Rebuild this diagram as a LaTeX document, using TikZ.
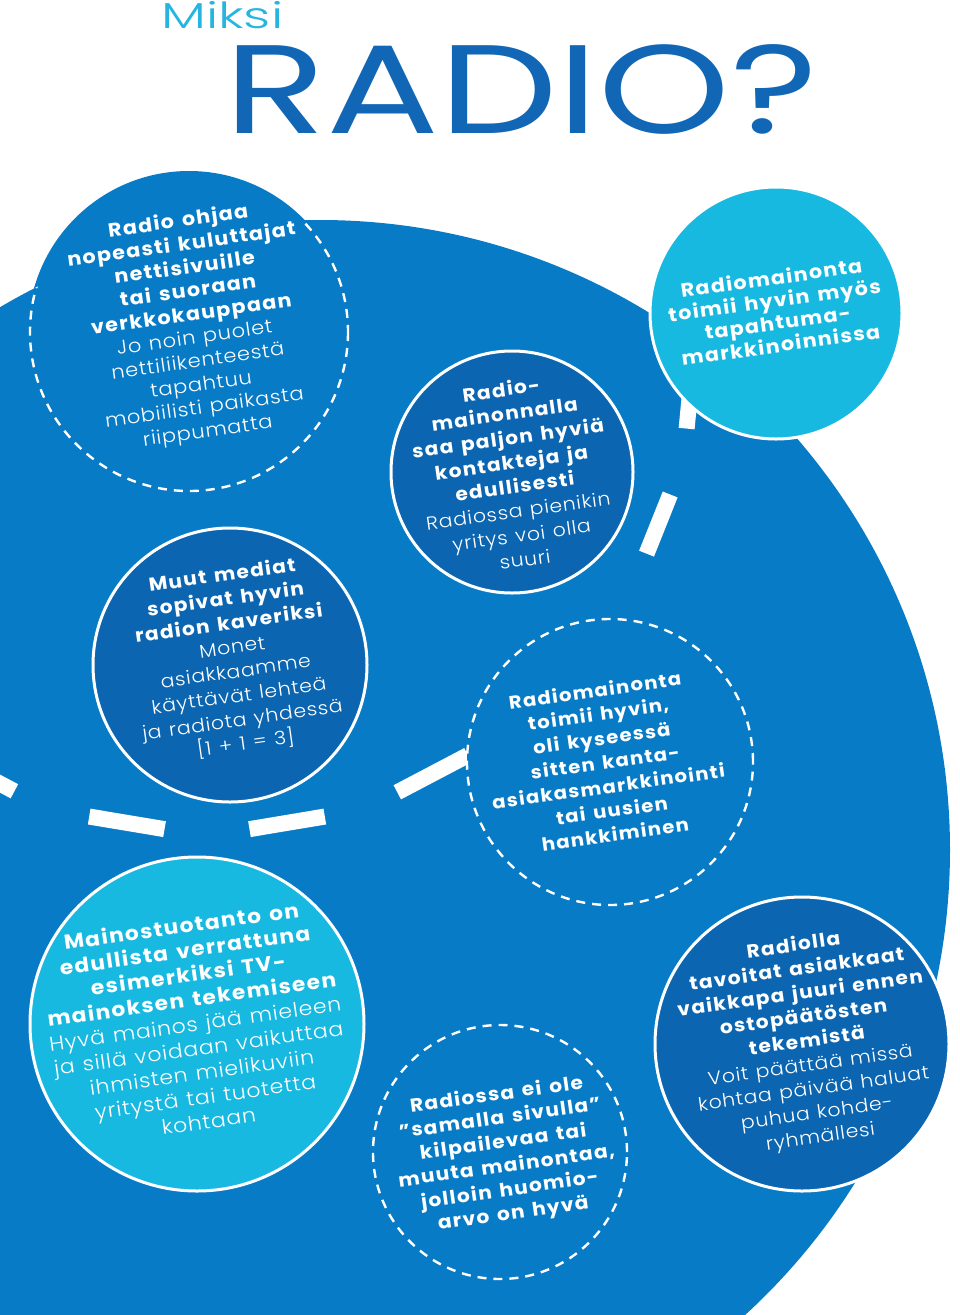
\documentclass[tikz,border=0pt]{standalone}
\usepackage{fontspec}
\setmainfont{Poppins}
\newfontfamily\boldf{Poppins Bold}[Scale=0.96, FakeStretch=1.08, LetterSpace=7, WordSpace=1.4]
\newfontfamily\lightf{Poppins Light}[Scale=0.95, FakeStretch=1.1, LetterSpace=4, WordSpace=1.2]
\newfontfamily\titlef{Poppins}
\newfontfamily\titlelight{Poppins Light}
\newcommand{\Bl}[1]{{\boldf #1}}
\newcommand{\Lt}[1]{{\lightf #1}}
\usetikzlibrary{calc}
\definecolor{mainblue}{RGB}{8,123,199}
\definecolor{darkblue}{RGB}{11,101,176}
\definecolor{cyanb}{RGB}{24,185,224}
\definecolor{titleblue}{RGB}{17,103,181}
\definecolor{titlecyan}{RGB}{36,181,224}
\begin{document}
\begin{tikzpicture}[x=1pt,y=-1pt,
  bubble/.style={circle, draw=white, line width=3pt, inner sep=0pt},
  dashbubble/.style={circle, draw=white, line width=2.4pt, dash pattern=on 9pt off 7pt, inner sep=0pt, fill=mainblue},
  txt/.style={text=white, align=center, rotate=8, inner sep=0pt},
  bigdash/.style={draw=white, line width=16pt},
]
\useasboundingbox (0,0) rectangle (960,1315);
\clip (0,0) rectangle (960,1315);
\fill[white] (0,0) rectangle (960,1315);

% title
\node[anchor=base west, inner sep=0pt, text=titlecyan, font=\titlelight\fontsize{36}{36}\selectfont] (miksi) at (161,28) {\scalebox{1.48}[1]{Miksi}};
\node[anchor=base west, inner sep=0pt, text=titleblue, font=\titlef\fontsize{126}{126}\selectfont] (radio) at (224,133) {\scalebox{1.33}[1]{RADIO?}};

% big background shape
\node[circle, fill=mainblue, minimum size=1260pt, inner sep=0pt] (bg) at (320,850) {};

% circle 1
\node[circle, fill=mainblue, minimum size=322pt, inner sep=0pt] (c1) at (189,332) {};
\begin{scope}
  \clip (320,850) circle[radius=630];
  \draw[white, line width=2.4pt, dash pattern=on 9pt off 7pt] (189,332) circle[radius=159];
\end{scope}

% big white dashes
\coordinate (dc) at (207,344);
\foreach \a/\b in {113.3/122.7, 95/104, 76/85, 57.6/67, 18/25.5, 1/10}
  \draw[bigdash] ($(dc)+(\a:487)$) -- ($(dc)+(\b:487)$);

% circles
\node[bubble, fill=darkblue, minimum size=242pt] (c2) at (512,472) {};
\node[bubble, fill=cyanb, minimum size=252pt] (c3) at (776,313) {};
\node[bubble, fill=darkblue, minimum size=274pt] (c4) at (230,665) {};
\node[dashbubble, minimum size=286pt] (c5) at (610,762) {};
\node[bubble, fill=cyanb, minimum size=334pt] (c6) at (197,1024) {};
\node[dashbubble, minimum size=254pt] (c7) at (500,1152) {};
\node[bubble, fill=darkblue, minimum size=294pt] (c8) at (802,1044) {};

% texts
\node[txt, font=\fontsize{20}{23.5}\selectfont] (t1) at (193,327) {\Bl{Radio ohjaa}\\\Bl{nopeasti kuluttajat}\\\Bl{nettisivuille}\\\Bl{tai suoraan}\\\Bl{verkkokauppaan}\\\Lt{Jo noin puolet}\\\Lt{nettiliikenteestä}\\\Lt{tapahtuu}\\\Lt{mobiilisti paikasta}\\\Lt{riippumatta}};
\node[txt, font=\fontsize{19.5}{24.4}\selectfont] (t2) at (513,474) {\Bl{Radio-}\\\Bl{mainonnalla}\\\Bl{saa paljon hyviä}\\\Bl{kontakteja ja}\\\Bl{edullisesti}\\\Lt{Radiossa pienikin}\\\Lt{yritys voi olla}\\\Lt{suuri}};
\node[txt, font=\fontsize{20}{22.5}\selectfont] (t3) at (776,311) {\Bl{Radiomainonta}\\\Bl{toimii hyvin myös}\\\Bl{tapahtuma-}\\\Bl{markkinoinnissa}};
\node[txt, font=\fontsize{19.5}{24.3}\selectfont] (t4) at (234,660) {\Bl{Muut mediat}\\\Bl{sopivat hyvin}\\\Bl{radion kaveriksi}\\\Lt{Monet}\\\Lt{asiakkaamme}\\\Lt{käyttävät lehteä}\\\Lt{ja radiota yhdessä}\\\Lt{[1 + 1 = 3]}};
\node[txt, font=\fontsize{19}{24.3}\selectfont] (t5) at (605,762) {\Bl{Radiomainonta}\\\Bl{toimii hyvin,}\\\Bl{oli kyseessä}\\\Bl{sitten kanta-}\\\Bl{asiakasmarkkinointi}\\\Bl{tai uusien}\\\Bl{hankkiminen}};
\node[txt, font=\fontsize{21}{24.6}\selectfont] (t6) at (195,1023) {\Bl{Mainostuotanto on}\\\Bl{edullista verrattuna}\\\Bl{esimerkiksi TV-}\\\Bl{mainoksen tekemiseen}\\\Lt{Hyvä mainos jää mieleen}\\\Lt{ja sillä voidaan vaikuttaa}\\\Lt{ihmisten mielikuviin}\\\Lt{yritystä tai tuotetta}\\\Lt{kohtaan}};
\node[txt, font=\fontsize{19.5}{24}\selectfont] (t7) at (505,1155) {\Bl{Radiossa ei ole}\\\Bl{”samalla sivulla”}\\\Bl{kilpailevaa tai}\\\Bl{muuta mainontaa,}\\\Bl{jolloin huomio-}\\\Bl{arvo on hyvä}};
\node[txt, font=\fontsize{19.5}{24.1}\selectfont] (t8) at (807,1042) {\Bl{Radiolla}\\\Bl{tavoitat asiakkaat}\\\Bl{vaikkapa juuri ennen}\\\Bl{ostopäätösten}\\\Bl{tekemistä}\\\Lt{Voit päättää missä}\\\Lt{kohtaa päivää haluat}\\\Lt{puhua kohde-}\\\Lt{ryhmällesi}};
\end{tikzpicture}
\end{document}
